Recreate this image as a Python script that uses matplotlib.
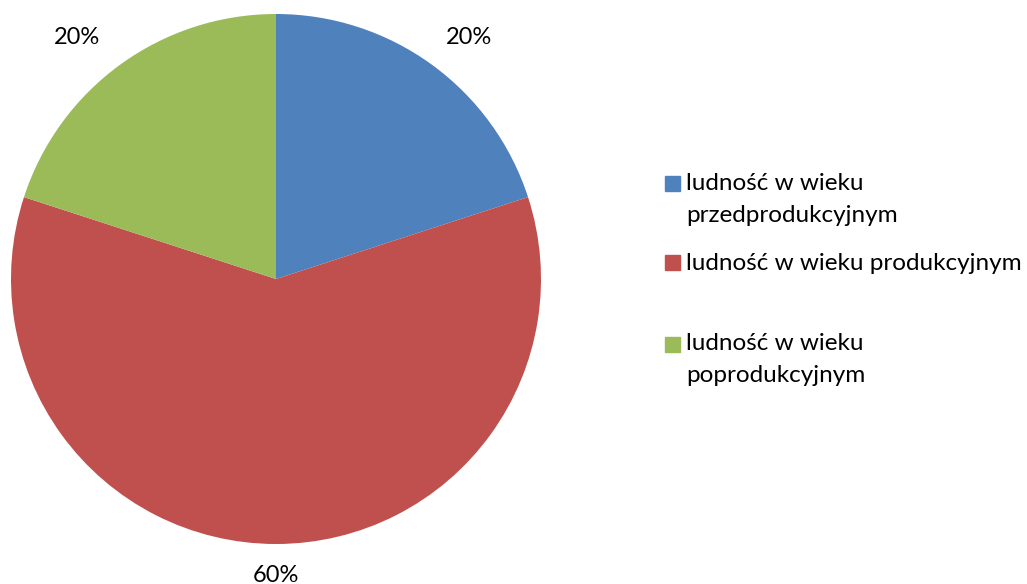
import matplotlib.pyplot as plt
from matplotlib.patches import Rectangle

# dane
kategorie = ['ludność w wieku\nprzedprodukcyjnym',
             'ludność w wieku produkcyjnym',
             'ludność w wieku\npoprodukcyjnym']
udzialy = [20, 60, 20]
kolory = ['#4F81BD', '#C0504D', '#9BBB59']

plt.rcParams['font.family'] = ['Lato', 'DejaVu Sans']

fig = plt.figure(figsize=(10.27, 5.84), dpi=100)
ax = fig.add_axes([11 / 1027, 40 / 584, 530 / 1027, 530 / 584])

wedges, texts, autotexts = ax.pie(udzialy, colors=kolory, startangle=90,
                                  counterclock=False, autopct='%.0f%%',
                                  pctdistance=1.17, radius=1.0,
                                  textprops={'fontsize': 17, 'color': 'black'})
# polozenie etykiet jak w Excelu
poz_etykiet = [(0.73, 0.91), (0, -1.117), (-0.75, 0.91)]
for t, p in zip(autotexts, poz_etykiet):
    t.set_position(p)
ax.set_xlim(-1, 1)
ax.set_ylim(-1, 1)
ax.set_aspect('equal')

# legenda rysowana recznie (znacznik przy pierwszej linii, jak w Excelu)
leg_y = [183, 263, 344]
for kat, kol, y in zip(kategorie, kolory, leg_y):
    fig.patches.append(Rectangle((665 / 1027, 1 - (y + 7.5) / 584), 15 / 1027, 15 / 584,
                                 transform=fig.transFigure, color=kol))
    for i, linia in enumerate(kat.split('\n')):
        fig.text(686 / 1027, 1 - (y + 32 * i) / 584, linia, fontsize=17.5,
                 va='center', ha='left')

fig.savefig('out.png', dpi=100)
